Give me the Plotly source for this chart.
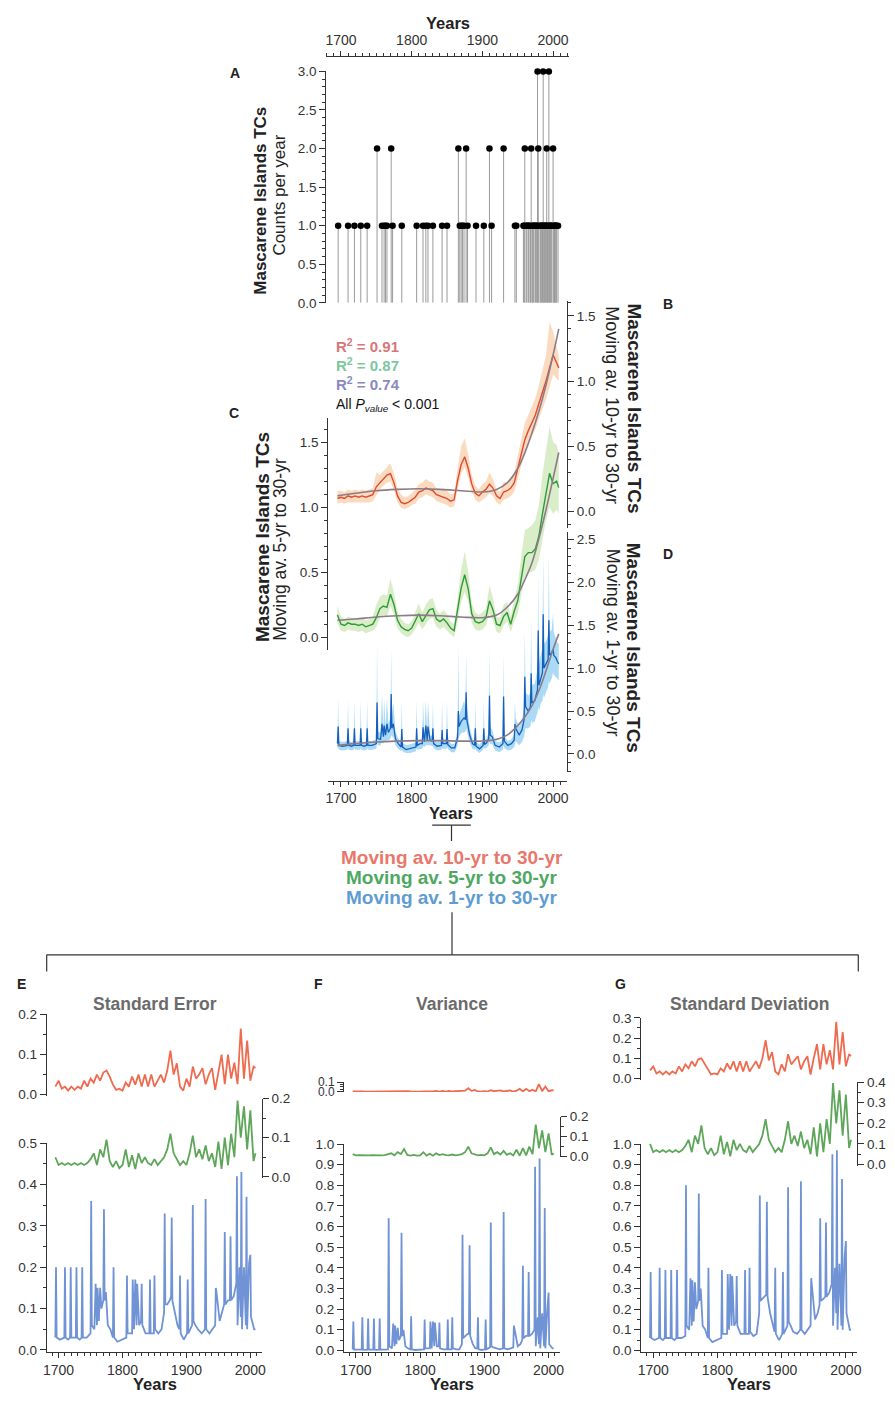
import plotly.graph_objects as go

# window is 895x1403; the page body keeps its default 8px margin, so the figure
# starts at (8, 8) and is sized to reach the window's right and bottom edges
WIN_W, WIN_H, OFF = 895, 1403, 8
W, H = WIN_W - OFF, WIN_H - OFF
FONT = "Arial, Liberation Sans, sans-serif"

# ---------------- data ----------------
# Panel A: cyclone counts per year
event_years = [1696, 1710, 1719, 1728, 1737, 1751, 1758, 1761, 1763, 1765, 1771, 1773, 1786,
               1807, 1816, 1820, 1823, 1830, 1843, 1850, 1866, 1868, 1870, 1872, 1874, 1877,
               1879, 1891, 1902, 1910, 1913, 1930, 1946, 1948, 1958, 1959, 1960, 1962, 1963,
               1965, 1966, 1968, 1969, 1971, 1972, 1973, 1975, 1976, 1977, 1978, 1979, 1980,
               1982, 1983, 1984, 1985, 1986, 1987, 1988, 1989, 1990, 1991, 1992, 1993, 1994,
               1995, 1996, 1997, 1998, 2000, 2001, 2002, 2003, 2004, 2005, 2007]
event_counts = [1, 1, 1, 1, 1, 2, 1, 1, 1, 1, 2, 1, 1,
                1, 1, 1, 1, 1, 1, 1, 2, 1, 1, 1, 1, 2,
                1, 1, 1, 2, 1, 2, 1, 1, 1, 1, 2, 1, 1,
                1, 1, 1, 2, 1, 1, 1, 1, 1, 1, 3, 2, 1,
                1, 1, 1, 1, 3, 1, 1, 1, 1, 2, 1, 1, 3,
                1, 1, 1, 1, 2, 1, 1, 1, 1, 1, 1]

# 5-year grid for the smoother series
years5 = [1695, 1700, 1705, 1710, 1715, 1720, 1725, 1730,
          1735, 1740, 1745, 1750, 1755, 1760, 1765, 1770,
          1775, 1780, 1785, 1790, 1795, 1800, 1805, 1810,
          1815, 1820, 1825, 1830, 1835, 1840, 1845, 1850,
          1855, 1860, 1865, 1870, 1875, 1880, 1885, 1890,
          1895, 1900, 1905, 1910, 1915, 1920, 1925, 1930,
          1935, 1940, 1945, 1950, 1955, 1960, 1965, 1970,
          1975, 1980, 1985, 1990, 1995, 2000, 2005, 2008]

# B: moving av. 10-yr to 30-yr
red_ma = [0.10, 0.11, 0.10, 0.12, 0.11, 0.12, 0.11, 0.12,
          0.11, 0.12, 0.13, 0.19, 0.22, 0.25, 0.28, 0.29,
          0.22, 0.12, 0.07, 0.06, 0.07, 0.09, 0.11, 0.15,
          0.16, 0.18, 0.17, 0.16, 0.13, 0.12, 0.11, 0.10,
          0.08, 0.09, 0.24, 0.36, 0.42, 0.33, 0.21, 0.14,
          0.12, 0.15, 0.17, 0.21, 0.18, 0.12, 0.10, 0.15,
          0.16, 0.18, 0.22, 0.33, 0.44, 0.55, 0.62, 0.68,
          0.74, 0.83, 0.91, 1.00, 1.10, 1.20, 1.14, 1.10]
red_hi = [0.16, 0.16, 0.15, 0.17, 0.16, 0.17, 0.16, 0.17,
          0.16, 0.17, 0.18, 0.30, 0.28, 0.31, 0.34, 0.37,
          0.29, 0.18, 0.13, 0.11, 0.12, 0.14, 0.17, 0.21,
          0.22, 0.25, 0.23, 0.22, 0.18, 0.17, 0.18, 0.16,
          0.13, 0.14, 0.33, 0.50, 0.56, 0.44, 0.28, 0.20,
          0.17, 0.21, 0.23, 0.30, 0.25, 0.17, 0.15, 0.23,
          0.22, 0.25, 0.30, 0.43, 0.56, 0.68, 0.74, 0.80,
          0.87, 0.97, 1.08, 1.20, 1.45, 1.38, 1.26, 1.20]
red_lo = [0.06, 0.07, 0.06, 0.07, 0.07, 0.07, 0.07, 0.07,
          0.07, 0.07, 0.08, 0.13, 0.17, 0.20, 0.22, 0.23,
          0.16, 0.07, 0.03, 0.02, 0.03, 0.05, 0.06, 0.10,
          0.11, 0.13, 0.12, 0.11, 0.08, 0.07, 0.06, 0.05,
          0.03, 0.04, 0.17, 0.29, 0.34, 0.26, 0.15, 0.09,
          0.07, 0.09, 0.11, 0.14, 0.12, 0.07, 0.05, 0.09,
          0.10, 0.12, 0.15, 0.25, 0.35, 0.45, 0.52, 0.58,
          0.63, 0.71, 0.78, 0.86, 0.95, 1.05, 1.02, 1.00]

# C: moving av. 5-yr to 30-yr
green_ma = [0.17, 0.10, 0.09, 0.11, 0.10, 0.10, 0.09, 0.10,
            0.08, 0.09, 0.10, 0.15, 0.22, 0.24, 0.23, 0.33,
            0.25, 0.13, 0.08, 0.06, 0.05, 0.07, 0.12, 0.18,
            0.12, 0.17, 0.21, 0.22, 0.14, 0.12, 0.14, 0.11,
            0.07, 0.05, 0.20, 0.38, 0.48, 0.37, 0.18, 0.12,
            0.11, 0.12, 0.15, 0.28, 0.21, 0.10, 0.09, 0.16,
            0.19, 0.10, 0.20, 0.28, 0.45, 0.62, 0.65, 0.65,
            0.68, 0.78, 0.95, 1.12, 1.26, 1.18, 1.20, 1.15]
green_hi = [0.24, 0.16, 0.14, 0.16, 0.15, 0.15, 0.14, 0.15,
            0.13, 0.14, 0.16, 0.25, 0.31, 0.33, 0.32, 0.45,
            0.34, 0.20, 0.14, 0.11, 0.10, 0.12, 0.19, 0.26,
            0.19, 0.25, 0.29, 0.30, 0.21, 0.18, 0.21, 0.18,
            0.12, 0.10, 0.30, 0.52, 0.66, 0.50, 0.26, 0.19,
            0.17, 0.19, 0.22, 0.40, 0.30, 0.16, 0.15, 0.25,
            0.27, 0.16, 0.29, 0.40, 0.62, 0.82, 0.84, 0.86,
            0.90, 1.02, 1.25, 1.45, 1.62, 1.50, 1.48, 1.42]
green_lo = [0.11, 0.05, 0.04, 0.06, 0.05, 0.05, 0.04, 0.05,
            0.03, 0.04, 0.05, 0.08, 0.15, 0.17, 0.16, 0.24,
            0.17, 0.07, 0.03, 0.01, 0.00, 0.02, 0.06, 0.11,
            0.06, 0.10, 0.14, 0.15, 0.08, 0.06, 0.08, 0.05,
            0.02, 0.00, 0.12, 0.27, 0.35, 0.27, 0.11, 0.06,
            0.05, 0.06, 0.09, 0.18, 0.13, 0.04, 0.03, 0.09,
            0.12, 0.04, 0.12, 0.18, 0.32, 0.46, 0.50, 0.50,
            0.52, 0.60, 0.75, 0.90, 1.00, 0.95, 0.98, 0.95]

# polynomial fits (B, C, D)
fit_years = [1695, 1720, 1750, 1780, 1810, 1840, 1870, 1900, 1920, 1935, 1950, 1960,
             1970, 1980, 1990, 2000, 2008]
red_fit = [0.12, 0.14, 0.16, 0.17, 0.175, 0.17, 0.16, 0.15, 0.17, 0.22, 0.33, 0.45,
           0.60, 0.77, 0.97, 1.20, 1.40]
green_fit = [0.13, 0.14, 0.155, 0.165, 0.17, 0.165, 0.155, 0.15, 0.17, 0.23, 0.33, 0.44,
             0.57, 0.76, 0.98, 1.22, 1.42]
blue_fit = [0.10, 0.12, 0.14, 0.15, 0.155, 0.155, 0.15, 0.15, 0.17, 0.22, 0.33, 0.43,
            0.56, 0.74, 0.97, 1.22, 1.40]

# E, F, G: red (10-yr to 30-yr) and green (5-yr to 30-yr)
se_red = [0.020, 0.035, 0.015, 0.020, 0.010, 0.020, 0.012, 0.020,
          0.015, 0.035, 0.020, 0.040, 0.030, 0.050, 0.035, 0.055,
          0.060, 0.045, 0.025, 0.012, 0.015, 0.010, 0.030, 0.020,
          0.045, 0.025, 0.050, 0.020, 0.050, 0.020, 0.050, 0.020,
          0.035, 0.050, 0.030, 0.060, 0.110, 0.050, 0.078, 0.020,
          0.010, 0.040, 0.020, 0.070, 0.040, 0.050, 0.066, 0.026,
          0.050, 0.066, 0.012, 0.060, 0.100, 0.026, 0.100, 0.040,
          0.080, 0.026, 0.165, 0.040, 0.135, 0.035, 0.070, 0.066]
se_green = [0.050, 0.030, 0.035, 0.030, 0.035, 0.030, 0.035, 0.030,
            0.035, 0.030, 0.035, 0.045, 0.060, 0.030, 0.070, 0.050,
            0.095, 0.040, 0.025, 0.040, 0.022, 0.030, 0.070, 0.025,
            0.055, 0.020, 0.060, 0.035, 0.050, 0.035, 0.030, 0.045,
            0.030, 0.040, 0.050, 0.070, 0.110, 0.060, 0.045, 0.030,
            0.040, 0.030, 0.060, 0.105, 0.050, 0.070, 0.045, 0.080,
            0.040, 0.060, 0.025, 0.090, 0.020, 0.100, 0.030, 0.110,
            0.050, 0.195, 0.100, 0.180, 0.070, 0.170, 0.040, 0.060]
var_red = [0.002, 0.004, 0.001, 0.001, 0.000, 0.001, 0.000, 0.001,
           0.001, 0.004, 0.001, 0.005, 0.003, 0.007, 0.004, 0.009,
           0.010, 0.006, 0.002, 0.000, 0.001, 0.000, 0.003, 0.001,
           0.006, 0.002, 0.007, 0.001, 0.007, 0.001, 0.007, 0.001,
           0.004, 0.007, 0.003, 0.010, 0.036, 0.008, 0.017, 0.001,
           0.000, 0.005, 0.001, 0.014, 0.005, 0.008, 0.012, 0.002,
           0.007, 0.012, 0.000, 0.010, 0.029, 0.002, 0.029, 0.005,
           0.020, 0.002, 0.078, 0.005, 0.053, 0.004, 0.014, 0.012]
var_green = [0.010, 0.004, 0.005, 0.004, 0.005, 0.004, 0.005, 0.004,
             0.005, 0.004, 0.005, 0.008, 0.014, 0.004, 0.020, 0.010,
             0.036, 0.006, 0.003, 0.006, 0.002, 0.004, 0.020, 0.003,
             0.012, 0.002, 0.014, 0.005, 0.010, 0.005, 0.004, 0.008,
             0.004, 0.006, 0.010, 0.020, 0.048, 0.014, 0.008, 0.004,
             0.006, 0.004, 0.014, 0.044, 0.010, 0.020, 0.008, 0.026,
             0.006, 0.014, 0.003, 0.032, 0.002, 0.040, 0.004, 0.048,
             0.010, 0.160, 0.040, 0.130, 0.020, 0.115, 0.006, 0.014]
sd_red = [0.040, 0.060, 0.025, 0.035, 0.020, 0.035, 0.020, 0.035,
          0.025, 0.060, 0.035, 0.070, 0.050, 0.085, 0.060, 0.095,
          0.100, 0.075, 0.045, 0.020, 0.025, 0.020, 0.050, 0.035,
          0.075, 0.045, 0.085, 0.035, 0.085, 0.035, 0.085, 0.035,
          0.060, 0.085, 0.050, 0.100, 0.190, 0.090, 0.130, 0.035,
          0.020, 0.070, 0.035, 0.120, 0.070, 0.090, 0.110, 0.045,
          0.085, 0.110, 0.020, 0.100, 0.170, 0.045, 0.170, 0.070,
          0.140, 0.045, 0.280, 0.070, 0.230, 0.060, 0.120, 0.110]
sd_green = [0.10, 0.06, 0.07, 0.06, 0.07, 0.06, 0.07, 0.06,
            0.07, 0.06, 0.07, 0.09, 0.12, 0.06, 0.14, 0.10,
            0.19, 0.08, 0.05, 0.08, 0.045, 0.06, 0.14, 0.05,
            0.11, 0.04, 0.12, 0.07, 0.10, 0.07, 0.06, 0.09,
            0.06, 0.08, 0.10, 0.14, 0.22, 0.12, 0.09, 0.06,
            0.08, 0.06, 0.12, 0.21, 0.10, 0.14, 0.09, 0.16,
            0.08, 0.12, 0.05, 0.18, 0.04, 0.20, 0.06, 0.22,
            0.10, 0.395, 0.20, 0.36, 0.14, 0.34, 0.08, 0.12]

# irregular grid for the spiky 1-yr to 30-yr series
blue_years = [1695, 1696, 1697, 1702, 1709, 1710, 1711, 1715, 1718, 1719, 1720, 1724, 1727, 1728, 1729, 1733, 1736, 1737, 1738, 1744,
              1750, 1751, 1752, 1756, 1758, 1760, 1761, 1763, 1765, 1767, 1770, 1771, 1772, 1774, 1777, 1781, 1785, 1786, 1787, 1792, 1798,
              1806, 1807, 1808, 1812, 1815, 1816, 1818, 1820, 1822, 1823, 1826, 1829, 1830, 1831, 1836, 1842, 1843, 1844, 1847, 1849, 1850, 1851, 1856, 1861,
              1865, 1866, 1867, 1870, 1874, 1876, 1877, 1878, 1882, 1886, 1889, 1890, 1891, 1896, 1901, 1902, 1903, 1906, 1909, 1910, 1911, 1914, 1918,
              1924, 1929, 1930, 1931, 1936, 1941, 1945, 1946, 1947, 1952, 1956, 1959, 1960, 1961, 1965, 1968, 1969, 1970,
              1974, 1978, 1979, 1980, 1983, 1985, 1986, 1987, 1990, 1993, 1994, 1995, 1998, 2000, 2001, 2004, 2006, 2008]

# D: moving av. 1-yr to 30-yr
blue_ma = [0.12, 0.32, 0.10, 0.09, 0.10, 0.30, 0.10, 0.09, 0.10, 0.30, 0.10, 0.10, 0.10, 0.30, 0.10, 0.09, 0.10, 0.30, 0.10, 0.10,
           0.12, 0.60, 0.18, 0.17, 0.35, 0.20, 0.33, 0.22, 0.35, 0.25, 0.30, 0.70, 0.30, 0.35, 0.18, 0.12, 0.08, 0.29, 0.08, 0.05, 0.06,
           0.08, 0.30, 0.10, 0.12, 0.12, 0.31, 0.14, 0.33, 0.16, 0.32, 0.16, 0.15, 0.30, 0.12, 0.09, 0.10, 0.28, 0.12, 0.12, 0.12, 0.29, 0.11, 0.07, 0.07,
           0.20, 0.50, 0.32, 0.38, 0.42, 0.40, 0.72, 0.40, 0.22, 0.12, 0.10, 0.30, 0.09, 0.06, 0.10, 0.30, 0.11, 0.13, 0.18, 0.68, 0.22, 0.20, 0.10,
           0.08, 0.12, 0.67, 0.15, 0.10, 0.12, 0.16, 0.35, 0.30, 0.22, 0.28, 0.40, 0.90, 0.55, 0.50, 0.55, 0.94, 0.60,
           0.62, 0.75, 1.44, 0.80, 0.90, 0.95, 1.63, 1.00, 1.05, 1.10, 1.56, 1.15, 1.18, 1.22, 1.15, 1.12, 1.08, 1.05]
blue_hi = [0.16, 0.65, 0.15, 0.14, 0.15, 0.63, 0.15, 0.14, 0.15, 0.63, 0.15, 0.15, 0.15, 0.63, 0.15, 0.14, 0.15, 0.63, 0.15, 0.15,
           0.17, 1.29, 0.26, 0.25, 0.70, 0.30, 0.65, 0.32, 0.65, 0.36, 0.42, 1.23, 0.42, 0.60, 0.26, 0.18, 0.13, 0.63, 0.13, 0.10, 0.11,
           0.13, 0.63, 0.15, 0.17, 0.17, 0.63, 0.20, 0.63, 0.22, 0.62, 0.22, 0.21, 0.62, 0.17, 0.14, 0.15, 0.62, 0.17, 0.17, 0.17, 0.63, 0.16, 0.12, 0.12,
           0.30, 1.27, 0.45, 0.52, 0.62, 0.55, 1.18, 0.55, 0.32, 0.17, 0.15, 0.63, 0.14, 0.11, 0.15, 0.62, 0.16, 0.18, 0.26, 1.23, 0.32, 0.28, 0.15,
           0.13, 0.17, 1.20, 0.21, 0.15, 0.17, 0.23, 0.62, 0.42, 0.32, 0.40, 0.55, 1.44, 0.72, 0.68, 0.72, 1.56, 0.80,
           0.82, 1.00, 2.10, 1.05, 1.18, 1.22, 2.36, 1.28, 1.32, 1.38, 2.33, 1.42, 1.45, 1.64, 1.42, 1.35, 1.30, 1.28]
blue_lo = [0.06, 0.08, 0.05, 0.04, 0.05, 0.07, 0.05, 0.04, 0.05, 0.07, 0.05, 0.05, 0.05, 0.07, 0.05, 0.04, 0.05, 0.07, 0.05, 0.05,
           0.06, 0.15, 0.10, 0.10, 0.14, 0.12, 0.14, 0.14, 0.16, 0.16, 0.18, 0.22, 0.20, 0.20, 0.10, 0.06, 0.03, 0.05, 0.03, 0.01, 0.01,
           0.03, 0.07, 0.05, 0.06, 0.06, 0.09, 0.08, 0.10, 0.10, 0.10, 0.10, 0.09, 0.09, 0.07, 0.04, 0.05, 0.07, 0.06, 0.06, 0.06, 0.08, 0.06, 0.02, 0.02,
           0.10, 0.18, 0.20, 0.24, 0.26, 0.26, 0.30, 0.26, 0.13, 0.06, 0.05, 0.07, 0.04, 0.01, 0.05, 0.08, 0.06, 0.07, 0.10, 0.15, 0.12, 0.11, 0.04,
           0.02, 0.05, 0.10, 0.07, 0.04, 0.05, 0.08, 0.12, 0.15, 0.10, 0.14, 0.20, 0.30, 0.30, 0.30, 0.32, 0.40, 0.36,
           0.38, 0.48, 0.55, 0.50, 0.60, 0.62, 0.70, 0.65, 0.72, 0.78, 0.85, 0.82, 0.88, 0.95, 0.92, 0.90, 0.88, 0.86]

# E, F, G: blue (1-yr to 30-yr)
se_blue = [0.03, 0.20, 0.03, 0.025, 0.03, 0.20, 0.03, 0.025, 0.03, 0.20, 0.03, 0.03, 0.03, 0.20, 0.03, 0.025, 0.03, 0.20, 0.03, 0.03,
           0.04, 0.36, 0.06, 0.05, 0.16, 0.06, 0.15, 0.07, 0.15, 0.10, 0.12, 0.34, 0.12, 0.14, 0.06, 0.05, 0.03, 0.20, 0.03, 0.02, 0.025,
           0.03, 0.18, 0.04, 0.04, 0.04, 0.17, 0.05, 0.17, 0.06, 0.16, 0.06, 0.07, 0.16, 0.06, 0.04, 0.04, 0.17, 0.04, 0.04, 0.04, 0.18, 0.05, 0.04, 0.05,
           0.09, 0.33, 0.11, 0.11, 0.12, 0.13, 0.32, 0.12, 0.09, 0.06, 0.05, 0.18, 0.04, 0.025, 0.04, 0.17, 0.04, 0.05, 0.06, 0.35, 0.07, 0.06, 0.05,
           0.04, 0.05, 0.365, 0.05, 0.04, 0.05, 0.06, 0.15, 0.14, 0.07, 0.09, 0.11, 0.285, 0.11, 0.12, 0.12, 0.275, 0.12,
           0.13, 0.16, 0.42, 0.06, 0.20, 0.08, 0.43, 0.05, 0.20, 0.06, 0.37, 0.05, 0.21, 0.23, 0.08, 0.06, 0.05, 0.05]
var_blue = [0.004, 0.14, 0.004, 0.003, 0.004, 0.16, 0.004, 0.003, 0.004, 0.155, 0.004, 0.004, 0.004, 0.155, 0.004, 0.003, 0.004, 0.155, 0.004, 0.004,
            0.005, 0.64, 0.02, 0.01, 0.13, 0.02, 0.12, 0.03, 0.11, 0.05, 0.07, 0.57, 0.07, 0.10, 0.02, 0.01, 0.005, 0.165, 0.005, 0.002, 0.002,
            0.005, 0.15, 0.01, 0.01, 0.01, 0.14, 0.01, 0.14, 0.02, 0.135, 0.02, 0.02, 0.135, 0.01, 0.005, 0.005, 0.15, 0.005, 0.005, 0.005, 0.16, 0.01, 0.005, 0.005,
            0.03, 0.56, 0.06, 0.07, 0.08, 0.08, 0.51, 0.07, 0.03, 0.01, 0.01, 0.16, 0.005, 0.002, 0.005, 0.15, 0.005, 0.01, 0.015, 0.62, 0.02, 0.015, 0.01,
            0.005, 0.01, 0.67, 0.01, 0.005, 0.01, 0.015, 0.12, 0.10, 0.02, 0.03, 0.05, 0.41, 0.06, 0.07, 0.07, 0.38, 0.07,
            0.08, 0.10, 0.89, 0.02, 0.16, 0.03, 0.93, 0.01, 0.18, 0.02, 0.69, 0.01, 0.20, 0.28, 0.03, 0.015, 0.01, 0.01]
sd_blue = [0.06, 0.38, 0.06, 0.05, 0.06, 0.40, 0.06, 0.05, 0.06, 0.39, 0.06, 0.06, 0.06, 0.39, 0.06, 0.05, 0.06, 0.39, 0.06, 0.06,
           0.07, 0.80, 0.12, 0.10, 0.35, 0.12, 0.34, 0.14, 0.33, 0.20, 0.24, 0.76, 0.24, 0.30, 0.12, 0.10, 0.06, 0.40, 0.06, 0.04, 0.05,
           0.06, 0.39, 0.08, 0.08, 0.08, 0.37, 0.10, 0.37, 0.12, 0.36, 0.12, 0.14, 0.36, 0.12, 0.08, 0.08, 0.39, 0.08, 0.08, 0.08, 0.40, 0.09, 0.07, 0.08,
           0.18, 0.75, 0.24, 0.25, 0.26, 0.27, 0.72, 0.26, 0.18, 0.12, 0.09, 0.40, 0.08, 0.05, 0.08, 0.38, 0.08, 0.10, 0.12, 0.79, 0.14, 0.12, 0.09,
           0.08, 0.10, 0.82, 0.10, 0.08, 0.10, 0.12, 0.35, 0.32, 0.15, 0.18, 0.22, 0.64, 0.24, 0.25, 0.26, 0.62, 0.26,
           0.28, 0.32, 0.95, 0.12, 0.40, 0.18, 0.97, 0.10, 0.42, 0.12, 0.83, 0.10, 0.45, 0.53, 0.18, 0.12, 0.10, 0.10]

for s in (red_ma, red_hi, red_lo, green_ma, green_hi, green_lo, se_red, se_green,
          var_red, var_green, sd_red, sd_green):
    assert len(s) == len(years5), len(s)
for s in (blue_ma, blue_hi, blue_lo, se_blue, var_blue, sd_blue):
    assert len(s) == len(blue_years), len(s)

# ---------------- styling ----------------
RED, GREEN, BLUE = "#E04A30", "#2E9A38", "#1560BD"
RED_FILL, GREEN_FILL, BLUE_FILL = "rgba(247,175,115,0.45)", "rgba(180,220,145,0.5)", "rgba(100,188,236,0.55)"
FIT = "#8C7C88"
L_RED, L_GREEN, L_BLUE = "#EE6B4F", "#5EA659", "#6F93D5"
INK = "#333333"


# positions below are window pixels (as measured on the target picture)
def fx(p):
    return (p - OFF) / W


def fy(p):
    return 1 - (p - OFF) / H


AX = dict(showgrid=False, zeroline=False, showline=True, linecolor=INK, linewidth=1,
          ticks="outside", tickcolor=INK, ticklen=5, tickwidth=1,
          tickfont=dict(family=FONT, size=14, color=INK))

axes = {}


def name(kind, n):
    return f"{kind}axis" if n == 1 else f"{kind}axis{n}"


def hidden_x(n, left, right, rng, anchor):
    axes[name("x", n)] = dict(domain=[fx(left), fx(right)], range=rng, visible=False, anchor=anchor)


def year_x(n, left, right, rng, anchor, position=None, side="bottom"):
    d = dict(AX, domain=[fx(left), fx(right)], range=rng, anchor=anchor, side=side,
             tick0=1700, dtick=100,
             minor=dict(dtick=10, ticklen=3, ticks="outside", tickcolor=INK, showgrid=False))
    if position is not None:
        d["position"] = position
    axes[name("x", n)] = d


def val_y(n, top, bottom, rng, anchor, side, dtick, minor, size=13.5):
    axes[name("y", n)] = dict(AX, domain=[fy(bottom), fy(top)], range=rng, anchor=anchor, side=side,
                              tick0=0, dtick=dtick, tickformat=".1f", ticklen=6,
                              tickfont=dict(family=FONT, size=size, color=INK),
                              minor=dict(dtick=minor, ticklen=3, ticks="outside", tickcolor=INK, showgrid=False))


fig = go.Figure()


def ref(n):
    return ("x" if n == 1 else f"x{n}"), ("y" if n == 1 else f"y{n}")


def line(n, x, y, color, width=1.8, **kw):
    xa, ya = ref(n)
    fig.add_trace(go.Scatter(x=x, y=y, xaxis=xa, yaxis=ya, mode="lines",
                             line=dict(color=color, width=width), hoverinfo="skip", **kw))


def band(n, x, lo, hi, color):
    xa, ya = ref(n)
    fig.add_trace(go.Scatter(x=x, y=lo, xaxis=xa, yaxis=ya, mode="lines",
                             line=dict(width=0), hoverinfo="skip"))
    fig.add_trace(go.Scatter(x=x, y=hi, xaxis=xa, yaxis=ya, mode="lines", fill="tonexty",
                             fillcolor=color, line=dict(width=0), hoverinfo="skip"))


# ---- A: counts per year ----
year_x(1, 325, 570, [1679.0, 2022.4], "free", position=fy(49), side="top")
val_y(1, 65, 299, [0, 3.0], "x", "left", 0.5, 0.1)
fig.add_trace(go.Scatter(
    x=event_years, y=event_counts, mode="markers", cliponaxis=False,
    marker=dict(color="black", size=6.5),
    error_y=dict(type="data", symmetric=False, array=[0] * len(event_counts),
                 arrayminus=event_counts, color="#9a9a9a", thickness=1, width=0),
    hoverinfo="skip"))

# ---- B / C / D: moving averages ----
MID = [1681.8, 2019.6]
hidden_x(2, 327, 568, MID, "y2")
val_y(2, 297, 527, [-0.129, 1.614], "x2", "right", 0.5, 0.1)
hidden_x(3, 327, 568, MID, "y3")
val_y(3, 415, 650, [-0.099, 1.688], "x3", "left", 0.5, 0.1)
year_x(4, 327, 568, MID, "free", position=fy(782))
val_y(4, 531, 773, [-0.208, 2.584], "x4", "right", 0.5, 0.1)

band(2, years5, red_lo, red_hi, RED_FILL)
line(2, years5, red_ma, RED, 1.4)
line(2, fit_years, red_fit, FIT, 1.6, line_shape="spline")

band(3, years5, green_lo, green_hi, GREEN_FILL)
line(3, years5, green_ma, GREEN, 1.4)
line(3, fit_years, green_fit, FIT, 1.6, line_shape="spline")

band(4, blue_years, blue_lo, blue_hi, BLUE_FILL)
line(4, blue_years, blue_ma, BLUE, 1.3)
line(4, fit_years, blue_fit, FIT, 1.6, line_shape="spline")

# ---- E / F / G: dispersion panels ----
LOW = [1681.4, 2017.8]
panels = [
    dict(n=5, left=43, right=260,
         red=(1018.3, 1101, [-0.004, 0.2], 0.1, 0.05), green=(1103.3, 1184, [-0.004, 0.2], 0.1, 0.05),
         blue=(1148.3, 1360, [-0.006, 0.5], 0.1, 0.05),
         data=(se_red, se_green, se_blue)),
    dict(n=8, left=343, right=561,
         red=(1086.7, 1096.7, [-0.004, 0.1], 0.1, 0.025, 12), green=(1121.7, 1162.7, [-0.006, 0.2], 0.1, 0.05),
         blue=(1149.3, 1360, [-0.01, 1.0], 0.1, 0.05),
         data=(var_red, var_green, var_blue)),
    dict(n=11, left=643, right=861,
         red=(1021.7, 1084.3, [-0.006, 0.3], 0.1, 0.05), green=(1086.7, 1171.7, [-0.008, 0.4], 0.1, 0.05),
         blue=(1149.3, 1360, [-0.01, 1.0], 0.1, 0.05),
         data=(sd_red, sd_green, sd_blue)),
]
for p in panels:
    n, left, right = p["n"], p["left"], p["right"]
    d_red, d_green, d_blue = p["data"]

    hidden_x(n, left, right, LOW, f"y{n}")
    val_y(n, *p["red"][:3], f"x{n}", "left", *p["red"][3:])
    hidden_x(n + 1, left, right, LOW, f"y{n + 1}")
    val_y(n + 1, *p["green"][:3], f"x{n + 1}", "right", *p["green"][3:])
    year_x(n + 2, left, right, LOW, f"y{n + 2}")
    val_y(n + 2, *p["blue"][:3], f"x{n + 2}", "left", *p["blue"][3:])

    line(n, years5, d_red, L_RED, 1.8)
    line(n + 1, years5, d_green, L_GREEN, 1.8)
    line(n + 2, blue_years, d_blue, L_BLUE, 1.8)

# ---------------- text ----------------
ann = []


def text(x, y, s, size=14, bold=False, color="#222", angle=0, xanchor="center"):
    ann.append(dict(x=fx(x), y=fy(y), xref="paper", yref="paper", showarrow=False,
                    text=f"<b>{s}</b>" if bold else s, textangle=angle,
                    xanchor=xanchor, yanchor="middle",
                    font=dict(family=FONT, size=size, color=color)))


text(448, 16, "Years", 16.5, True)
text(451, 815, "Years", 16.5, True)
for cx in (152, 452, 752):
    text(cx, 1392, "Years", 16.5, True)

for lbl, x, y in [("A", 233, 67), ("B", 670, 300), ("C", 232, 410), ("D", 670, 553),
                  ("E", 18, 988), ("F", 317, 988), ("G", 622, 988)]:
    text(x, y, lbl, 14, True)

text(259, 196, "Mascarene Islands TCs", 17, True, angle=-90)
text(277, 190, "Counts per year", 17, angle=-90)
text(261, 536, "Mascarene Islands TCs", 19, True, angle=-90)
text(279, 548, "Moving av. 5-yr to 30-yr", 17.5, angle=-90)
text(636, 406, "Mascarene Islands TCs", 19, True, angle=90)
text(614, 402, "Moving av. 10-yr to 30-yr", 18, angle=90)
text(636, 648, "Mascarene Islands TCs", 19, True, angle=90)
text(614, 642, "Moving av. 1-yr to 30-yr", 18, angle=90)

text(333, 342, "R<sup>2</sup> = 0.91", 15, True, "#D8777B", xanchor="left")
text(333, 361, "R<sup>2</sup> = 0.87", 15, True, "#7CC7A0", xanchor="left")
text(333, 381, "R<sup>2</sup> = 0.74", 15, True, "#8A88BE", xanchor="left")
text(333, 402, "All <i>P</i><sub><i>value</i></sub> < 0.001", 14, False, "#111", xanchor="left")

text(452, 860, "Moving av. 10-yr to 30-yr", 19, True, "#E8776C")
text(452, 880, "Moving av. 5-yr to 30-yr", 19, True, "#4EA862")
text(452, 900, "Moving av. 1-yr to 30-yr", 19, True, "#5F9CD2")

text(152, 1008, "Standard Error", 17.5, True, "#6b6b6b")
text(452, 1008, "Variance", 17.5, True, "#6b6b6b")
text(752, 1008, "Standard Deviation", 17.5, True, "#6b6b6b")

# connector lines of the flow diagram
shapes = []


def seg(x0, y0, x1, y1, w=1.2):
    shapes.append(dict(type="line", xref="paper", yref="paper", x0=fx(x0), y0=fy(y0),
                       x1=fx(x1), y1=fy(y1), line=dict(color=INK, width=w)))


seg(432, 827, 471, 827)
seg(451.5, 827, 451.5, 843)
seg(452, 915, 452, 958)
seg(43, 958, 862, 958)
seg(43, 958, 43, 975)
seg(862, 958, 862, 975)

fig.update_layout(
    width=W, height=H, margin=dict(l=0, r=0, t=0, b=0),
    paper_bgcolor="white", plot_bgcolor="rgba(0,0,0,0)",
    showlegend=False, annotations=ann, shapes=shapes,
    font=dict(family=FONT, color=INK),
    **axes,
)

fig.write_html("out.html", config={"displayModeBar": False})
